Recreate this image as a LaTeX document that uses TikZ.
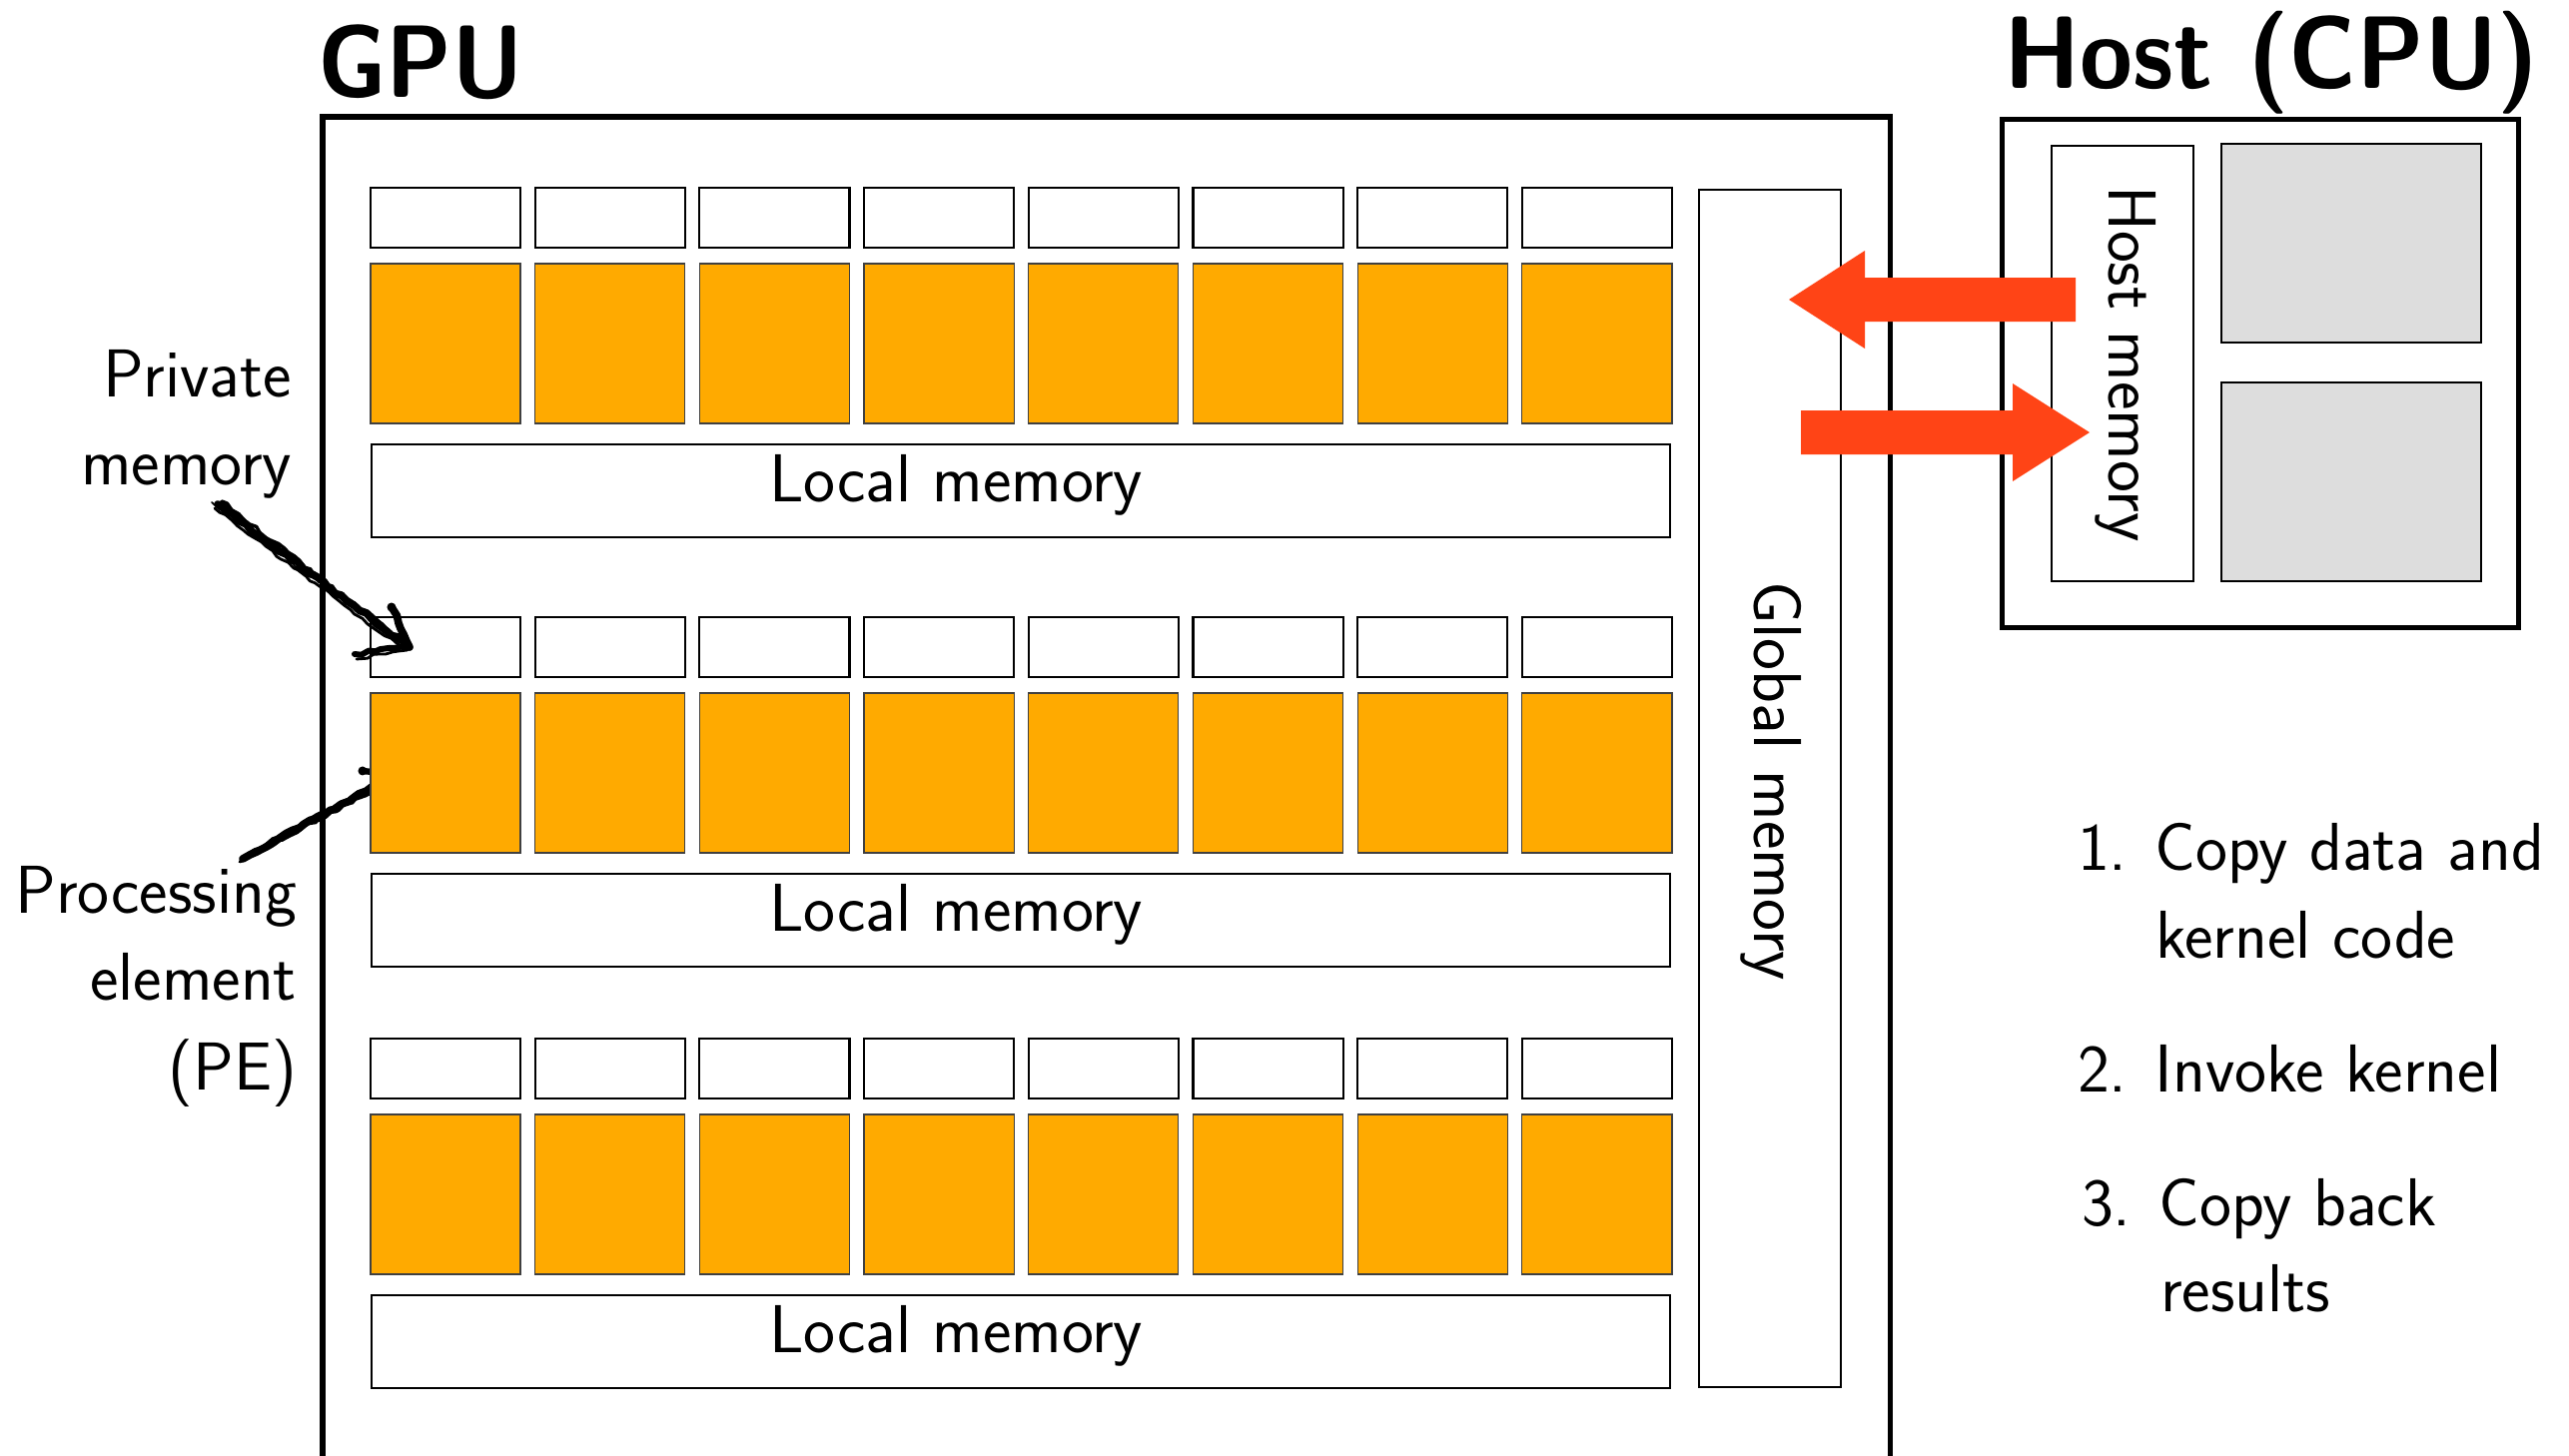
\documentclass[tikz,border=0pt]{standalone}
\usetikzlibrary{calc,decorations.pathmorphing,backgrounds}
\definecolor{peorange}{RGB}{255,170,0}
\definecolor{xferred}{RGB}{255,68,22}
\definecolor{cpugray}{RGB}{221,221,221}
\newcommand{\narrowhead}[2][0.912]{\scalebox{#1}[1]{#2}}
\begin{document}
\begin{tikzpicture}[x=0.01cm, y=-0.01cm,
  box/.style={draw, inner sep=0pt, outer sep=0pt},
  privbox/.style={box, line width=0.6pt, minimum width=1.5cm, minimum height=0.6cm},
  pebox/.style={box, draw=black!75, line width=0.35pt, fill=peorange, minimum width=1.5cm, minimum height=1.6cm},
  localbox/.style={box, line width=0.55pt, minimum width=13cm, minimum height=0.93cm},
  thinbox/.style={box, line width=0.5pt},
  framebox/.style={box, line width=1.45pt},
  corebox/.style={box, fill=cpugray, line width=0.6pt, minimum width=2.6cm, minimum height=1.99cm},
  txt/.style={font=\sffamily\fontsize{19.3}{22}\selectfont, inner sep=0pt, outer sep=0pt},
  heading/.style={font=\sffamily\bfseries\fontsize{29.3}{34}\selectfont, inner sep=0pt, outer sep=0pt},
  sketch/.style={draw=black, line cap=round, line join=round, decorate,
    decoration={random steps, segment length=2pt, amplitude=0.5pt}},
]
\pgfmathsetseed{11}
\begin{pgfonlayer}{background}
  \fill[white] (0,0) rectangle (2572,1457);
\end{pgfonlayer}
\useasboundingbox (0,0) rectangle (2572,1457);

% ---------- work-groups: private memory, processing elements, local memory
\foreach \g/\off in {1/0, 2/430, 3/852} {
  \foreach \i in {1,...,8} {
    \pgfmathsetmacro\cx{446+164.7*(\i-1)}
    \node[privbox] (p-\g-\i) at (\cx, 218+\off) {};
    \node[pebox]   (pe-\g-\i) at (\cx, 344+\off) {};
  }
  \node[localbox] (lm-\g) at (1022, 491.5+\off) {};
  \node[txt, anchor=base west] (lmt-\g) at (770, 502+\off) {Local memory};
}

% ---------- global memory
\node[thinbox, minimum width=1.42cm, minimum height=11.99cm] (gm) at (1772,789.5) {};
\node[txt, rotate=-90, anchor=base west] (gmt) at (1756,582) {Global memory};

% ---------- side labels
\node[txt, anchor=base east] (privlbl1) at (292,397) {Private};
\node[txt, anchor=base east] (privlbl2) at (292,485) {memory};
\node[txt, anchor=base east] (pelbl1) at (297,914) {Processing};
\node[txt, anchor=base east] (pelbl2) at (297,1001) {element};
\node[txt, anchor=base east] (pelbl3) at (297,1091) {(PE)};

% ---------- hand-drawn pointer to a processing element (tip hidden under the PE)
\coordinate (peTail) at (243,860);
\coordinate (peTip) at ($(pe-2-1.north west)+(27,81)$);
\coordinate (peBarbA) at ($(peTip)+(-35,-3)$);
\coordinate (peBarbB) at ($(peTip)+(-18,40)$);
\begin{pgfonlayer}{background}
  \draw[sketch, line width=2.2pt] (peTail) -- (peTip);
  \draw[sketch, line width=1pt] ($(peTail)+(5,-5)$) -- ($(peTip)+(0,-2)$);
  \draw[sketch, line width=0.8pt] ($(peTail)+(-3,3)$) -- ($(peTip)+(0,3)$);
  \draw[sketch, line width=0.5pt] ($(peTail)+(8,-2)$) -- ($(peTip)+(0,-4)$);
  \draw[sketch, line width=1.8pt] (peTip) -- (peBarbA);
  \draw[sketch, line width=1.8pt] (peTip) -- (peBarbB);
  \fill (peBarbA) circle (4.5);
\end{pgfonlayer}

% ---------- hand-drawn pointer to a private memory cell
\coordinate (pmTail) at (218,505);
\coordinate (pmTip) at ($(p-2-1.north west)+(39,30)$);
\coordinate (pmBarbA) at ($(pmTip)+(-18,-40)$);
\coordinate (pmBarbB) at ($(pmTip)+(-55,7)$);
\draw[sketch, line width=2.2pt] (pmTail) -- (pmTip);
\draw[sketch, line width=1pt] ($(pmTail)+(4,-3)$) -- ($(pmTip)+(-4,-3)$);
\draw[sketch, line width=0.8pt] ($(pmTail)+(-3,4)$) -- ($(pmTip)+(-6,2)$);
\draw[sketch, line width=0.5pt] ($(pmTail)+(-6,-2)$) -- ($(pmTip)+(-10,-4)$);
\draw[sketch, line width=2.2pt] (pmTip) -- (pmBarbA);
\draw[sketch, line width=1.7pt] (pmTip) -- (pmBarbB);
\draw[sketch, line width=0.8pt] ($(pmTip)+(-2,3)$) -- ($(pmBarbB)+(2,5)$);
\fill (pmBarbA) circle (4.5);

% ---------- GPU frame (runs past the lower edge)
\node[heading, anchor=base west] (gputitle) at (318,97) {\narrowhead{GPU}};
\node[framebox, anchor=north west, minimum width=15.69cm, minimum height=15cm] (gpu) at (323,117) {};

% ---------- host
\node[heading, anchor=base west] (hosttitle) at (2006,88) {\narrowhead[0.935]{Host (CPU)}};
\node[framebox, minimum width=5.16cm, minimum height=5.08cm] (host) at (2263,374) {};
\node[thinbox, minimum width=1.42cm, minimum height=4.36cm] (hm) at (2125,364) {};
\node[txt, rotate=-90, anchor=base west] (hmt) at (2111,186) {Host memory};
\node[corebox] (core-1) at (2354,243.5) {};
\node[corebox] (core-2) at (2354,482.5) {};

% ---------- transfers between host memory and global memory
\coordinate (toGpuFrom) at (2078,300);
\coordinate (toGpuTo) at (1791,300);
\coordinate (toHostFrom) at (1803,433);
\coordinate (toHostTo) at (2092,433);
\fill[xferred] ($(toGpuFrom)+(0,-22)$) -- ($(toGpuTo)+(76,-22)$) -- ($(toGpuTo)+(76,-49)$)
  -- (toGpuTo) -- ($(toGpuTo)+(76,49)$) -- ($(toGpuTo)+(76,22)$) -- ($(toGpuFrom)+(0,22)$) -- cycle;
\fill[xferred] ($(toHostFrom)+(0,-22)$) -- ($(toHostTo)+(-77,-22)$) -- ($(toHostTo)+(-77,-49)$)
  -- (toHostTo) -- ($(toHostTo)+(-77,49)$) -- ($(toHostTo)+(-77,22)$) -- ($(toHostFrom)+(0,22)$) -- cycle;

% ---------- steps
\node[txt, anchor=base west] (step1a) at (2080,871) {1. Copy data and};
\node[txt, anchor=base west] (step1b) at (2158,959) {kernel code};
\node[txt, anchor=base west] (step2) at (2080,1093) {2. Invoke kernel};
\node[txt, anchor=base west] (step3a) at (2084,1227) {3. Copy back};
\node[txt, anchor=base west] (step3b) at (2163,1313) {results};
\end{tikzpicture}
\end{document}
